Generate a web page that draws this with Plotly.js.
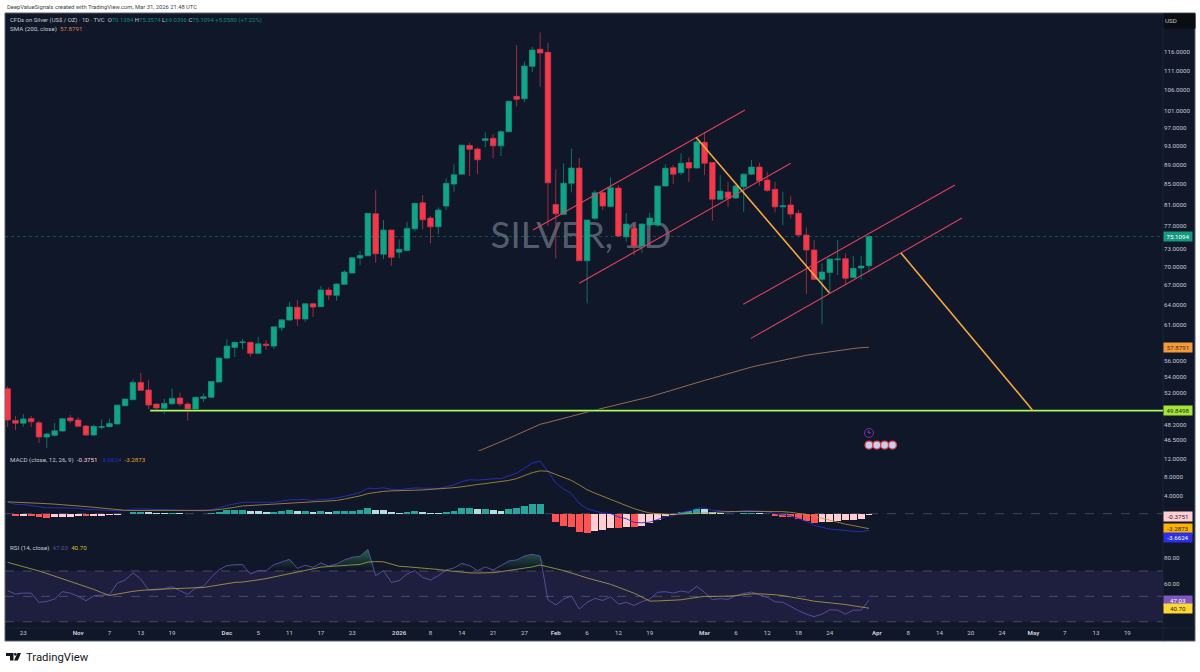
<!DOCTYPE html>
<html><head><meta charset="utf-8">
<script src="https://cdn.plot.ly/plotly-3.0.1.min.js"></script>
<style>html,body{margin:0;padding:0;background:#fff;overflow:hidden}#chart{width:1200px;height:672px}</style>
</head><body><div id="chart"></div>
<script>
// ---------- data ----------
const open_ = [52.49,48.72,48.40,48.92,48.44,46.85,47.03,47.51,49.00,48.76,48.08,47.07,47.93,48.00,48.31,50.43,51.15,53.28,52.33,50.63,
50.12,50.66,51.35,50.63,50.00,51.31,51.44,53.32,56.42,57.85,58.50,58.55,57.05,58.30,58.03,60.58,61.70,63.58,61.85,64.12,
63.67,66.22,65.40,67.12,68.93,71.40,71.78,79.26,72.05,76.27,72.40,72.70,76.50,81.33,78.45,76.85,80.70,85.00,87.00,93.10,
92.30,94.20,94.66,93.00,96.14,104.50,103.90,112.15,116.75,115.90,81.00,79.15,85.14,88.26,70.95,78.40,83.30,80.60,84.20,75.07,
76.57,73.45,77.17,77.17,84.60,88.32,87.30,89.40,88.26,93.77,89.40,82.00,83.40,82.25,84.46,87.00,88.47,85.80,83.95,80.55,
80.90,79.33,75.38,72.76,67.91,69.03,71.12,71.30,68.20,69.74,70.1384];
const high_ = [52.80,49.25,49.45,49.25,48.68,47.32,48.44,48.95,49.35,49.08,48.19,48.22,48.84,48.92,50.55,51.25,53.66,54.50,53.57,50.65,
51.27,52.49,52.00,50.90,51.46,51.92,53.42,56.45,58.96,58.60,59.00,58.63,59.33,58.86,60.75,61.76,64.38,64.68,64.15,64.27,
66.85,66.64,67.27,69.41,71.50,72.64,79.35,83.80,78.09,76.30,74.61,77.78,81.25,82.82,78.82,80.46,86.15,89.10,93.20,93.69,
92.67,96.00,95.60,96.53,103.35,117.90,113.40,117.46,121.50,118.57,88.00,89.25,92.37,90.37,78.10,83.80,83.80,86.34,84.80,79.33,
77.35,77.47,79.44,84.65,89.03,88.90,91.40,90.50,94.28,96.08,89.45,86.80,85.45,84.80,87.20,89.94,89.40,87.50,85.45,83.46,
82.62,79.95,76.75,74.49,70.53,71.28,74.49,72.20,71.75,71.75,75.3574];
const low_ = [47.96,47.62,47.99,47.96,46.20,45.65,46.88,47.43,48.40,47.93,46.96,46.96,47.70,47.93,48.25,50.35,51.11,52.20,50.00,49.68,
49.45,50.51,50.39,48.68,49.92,50.90,51.42,53.30,56.25,56.60,57.62,56.60,57.00,57.58,57.66,60.13,61.60,60.88,61.45,62.18,
63.65,64.68,64.58,67.10,68.90,70.23,71.75,70.62,71.20,70.12,71.35,72.65,76.03,76.40,73.92,75.55,79.95,83.46,86.95,86.60,
87.00,92.67,90.30,90.80,96.10,102.00,103.10,110.67,106.90,76.98,71.35,79.00,83.35,70.90,64.17,78.09,79.95,80.55,75.07,74.20,
71.90,72.30,76.57,76.85,84.55,85.00,86.80,85.45,88.20,86.80,77.96,81.85,80.55,82.05,79.63,86.80,84.65,83.46,79.50,77.17,
78.40,75.20,65.60,67.80,61.12,65.70,68.60,67.16,68.15,67.91,69.0396];
const close_ = [48.76,48.40,48.88,48.56,46.85,47.17,47.54,48.92,48.68,48.04,47.07,48.04,48.00,48.37,50.50,51.23,53.28,52.29,50.51,50.16,
50.71,51.31,50.66,50.00,51.44,51.50,53.40,56.42,58.03,58.55,58.60,57.05,58.35,58.13,60.73,61.74,63.62,61.85,64.12,63.62,
66.22,65.45,67.16,69.09,71.45,71.85,79.33,72.13,76.27,71.52,72.88,76.57,81.22,78.15,76.85,79.95,85.14,86.88,93.15,92.25,
90.00,94.57,93.00,96.14,103.30,103.77,112.24,116.55,115.73,85.25,79.26,85.14,88.26,70.95,78.09,83.26,80.70,84.26,75.20,77.35,
73.45,77.35,78.45,84.60,88.20,87.00,89.25,88.26,93.84,89.25,82.00,83.60,82.20,84.60,87.00,88.47,85.66,83.74,80.55,80.75,
79.20,75.38,72.76,67.91,69.09,71.24,71.24,68.07,69.69,70.07,75.1094];

const smaStart = 60;
const smaValues = [45.27,45.61,45.96,46.32,46.70,47.09,47.51,47.90,48.27,48.49,48.70,48.94,49.19,49.44,49.70,49.92,50.14,50.36,50.58,50.80,
51.01,51.24,51.49,51.78,52.08,52.34,52.63,52.93,53.21,53.53,53.80,54.09,54.39,54.69,54.98,55.24,55.47,55.70,55.94,56.18,
56.42,56.62,56.79,56.95,57.11,57.27,57.44,57.60,57.70,57.82,57.8791];

const macdHist = [-0.1,-0.5,-0.5,-0.6,-0.8,-0.9,-0.8,-0.75,-0.7,-0.5,-0.6,-0.55,-0.4,-0.35,-0.25,-0.05,0.3,0.35,0.3,0.2,
0.15,0.15,0.1,-0.05,-0.05,-0.1,0.15,0.35,0.72,0.76,0.78,0.7,0.6,0.35,0.4,0.55,0.75,0.65,0.7,0.35,
0.6,0.45,0.5,0.6,0.7,0.75,1.2,0.8,0.78,0.35,0.15,0.4,0.5,0.4,0.2,0.18,0.4,0.6,1.15,1.25,
0.95,0.97,0.85,0.7,1.05,1.2,1.7,2.1,2.12,-0.05,-1.9,-2.6,-2.9,-4.0,-4.2,-3.85,-3.65,-3.05,-3.1,-2.9,
-3.0,-2.6,-2.0,-1.3,-0.6,-0.3,0.35,0.6,1.0,0.95,0.35,0.2,-0.05,-0.1,0.2,0.22,0.15,-0.05,-0.5,-0.65,
-0.8,-1.15,-1.5,-2.0,-1.9,-1.88,-1.6,-1.45,-1.3,-1.1,-0.3751];
const macdLine = [2.5,2.05,2.0,1.8,1.5,1.3,1.3,1.25,1.15,1.2,0.95,0.85,0.8,0.7,0.65,0.7,1.0,1.05,1.0,0.9,
0.85,0.85,0.8,0.65,0.65,0.6,0.9,1.25,1.82,2.16,2.48,2.5,2.5,2.35,2.5,2.75,3.05,3.05,3.15,2.85,
3.15,3.15,3.4,3.8,4.2,4.65,5.6,5.5,5.68,5.35,5.25,5.5,5.65,5.6,5.5,5.53,5.9,6.3,7.05,7.45,
7.35,7.57,7.65,7.7,8.35,8.9,10.0,11.1,11.52,9.25,6.7,5.4,4.4,2.3,1.05,0.65,0.15,0.02,-0.7,-1.1,
-1.9,-2.0,-1.85,-1.3,-0.7,-0.45,0.25,0.6,1.15,1.25,0.75,0.65,0.4,0.4,0.7,0.7,0.65,0.5,0,-0.2,
-0.5,-1.05,-1.7,-2.55,-2.9,-3.4,-3.5,-3.75,-3.85,-3.95,-3.6624];
const macdSignal = [2.6,2.55,2.5,2.4,2.3,2.2,2.1,2.0,1.85,1.7,1.55,1.4,1.2,1.05,0.9,0.75,0.7,0.7,0.7,0.7,
0.7,0.7,0.7,0.7,0.7,0.7,0.75,0.9,1.1,1.4,1.7,1.8,1.9,2.0,2.1,2.2,2.3,2.4,2.45,2.5,
2.55,2.7,2.9,3.2,3.5,3.9,4.4,4.7,4.9,5.0,5.1,5.1,5.15,5.2,5.3,5.35,5.5,5.7,5.9,6.2,
6.4,6.6,6.8,7.0,7.3,7.7,8.3,9.0,9.4,9.3,8.6,8.0,7.3,6.3,5.25,4.5,3.8,3.07,2.4,1.8,
1.1,0.6,0.15,0,-0.1,-0.15,-0.1,0,0.15,0.3,0.4,0.45,0.45,0.5,0.5,0.5,0.5,0.55,0.5,0.45,
0.3,0.1,-0.2,-0.55,-1.0,-1.5,-1.9,-2.3,-2.6,-3.0,-3.2873];

const rsiLine = [54.5,51.8,52.6,52.6,45.3,46,47.9,53.7,52.6,50,46.6,50.5,51,51.3,60.3,62.9,68.4,63.7,55,55,
56,57.6,54.5,51.6,56.6,57.9,65,71,74.2,75,75,67.6,70.3,70,75,76.8,79.2,72,74.5,72.9,
76.3,73.9,75.5,78.7,80.8,81.6,87,66.3,70.3,61,62.4,67.6,70.3,65,62.9,66.3,70.8,72.4,76,74.2,
70.3,73.2,70.8,74.2,77.9,78.7,81.8,83.2,81.8,47.4,43.2,47.9,50.3,40,45.3,48.4,46.8,49.7,43.9,45.3,
42.9,45.8,47.9,53.2,53.7,52.6,54.2,53.2,57.9,53.2,47.4,48.2,47.6,50.5,52.4,53.4,51,49.2,45.8,45.3,
42.1,38.7,36,34,36,39.5,39.2,36,39.2,39.2,47.03];
const rsiMA = [76.8,75.2,73.6,72,70,68,66,64,62,60,58,55.5,53,50.7,51.8,53,54,54.7,55.3,55.6,
55.8,56,56,56,56.6,57,58,59,60.5,61,61.3,62,63,64,65.3,66.6,68,69.2,70.5,71.8,
73,73.5,73.9,74.2,74.6,75.2,77,77.4,77.2,75.5,73.7,73.3,72.9,72.3,71.8,71.2,70.4,69.6,69,68.5,
68.4,68.5,68.7,69.5,70.3,71,72.2,73.2,74.7,73.5,71.8,70.3,68.6,66.5,64.5,63,61.2,59.5,57.2,55,
52.5,49.5,46.3,46.4,46.7,47,47.3,48.3,49.3,50,50,50,50.2,50.6,51.5,52,52,51.8,51.3,50.6,
49.6,48.8,47.4,46.2,45.6,45,44.4,43.6,42.6,41.5,40.70];

const channel1UpperX=[67.09,94.16],  channel1UpperY=[76.27,101.19];
const channel1LowerX=[73.0,100.0],   channel1LowerY=[67.28,89.25];
const channel2UpperX=[93.95,120.98], channel2UpperY=[64.03,84.8];
const channel2LowerX=[94.93,121.88], channel2LowerY=[59.1,78.45];
const drop1X=[87.91,104.93], drop1Y=[94.9,65.8];
const drop2X=[114.09,130.95], drop2Y=[72.25,49.8498];
const supportStart=18.2, supportLevel=49.8498;
const lastPrice=75.1094, smaLast=57.8791;

const priceTicks=[116,111,106,101,97,93,89,85,81,77,73,70,67,64,61,56,54,52,48.2,46.5];
const macdTicks=[12,8,4];
const rsiTicks=[80,60];
const timeTickPos=[2,9,13,17,21,28,32,36,40,44,50,54,58,62,66,70,74,78,82,89,93,97,101,105,111,115,119,123,127,131,135,139,143];
const timeTickText=['23','<b>Nov</b>','7','13','19','<b>Dec</b>','5','11','17','23','<b>2026</b>','8','14','21','27','<b>Feb</b>','6','12','19','<b>Mar</b>','6','12','18','24','<b>Apr</b>','8','14','20','24','<b>May</b>','7','13','19'];

const eventFlagsX=[110,111,112,113], eventFlagPrice=45.97, eventBoltX=[110], eventBoltPrice=47.3;

// ---------- layout frame ----------
const W=1200,H=672, L=5,R=1163,T=13,B=628;
const pxX=x=>(x-L)/(R-L), pxY=y=>(B-y)/(B-T);
const xRange=[-0.34,147.55];
const BG='#0f1729', TXT='#c4c8d0';
const xs=open_.map((_,i)=>i);

const hue=macdHist.map((v,i)=>{const p=i?macdHist[i-1]:v;
  return v>=0?(v>=p?'#26a69a':'#b2dfdb'):(v>=p?'#ffcdd2':'#ff5252');});

const ln=(x,y,color,width,yaxis,dash)=>({type:'scatter',mode:'lines',x,y,yaxis:yaxis||'y',line:{color,width,dash:dash||'solid'},hoverinfo:'skip',showlegend:false,cliponaxis:true});

const traces=[
 ln(xRange,[lastPrice,lastPrice],'rgba(30,160,135,0.55)',0.8,'y','dot'),
 {type:'candlestick',x:xs,open:open_,high:high_,low:low_,close:close_,yaxis:'y',
  increasing:{line:{color:'#0f9a80',width:0.7},fillcolor:'#13a386'},
  decreasing:{line:{color:'#d8364a',width:0.7},fillcolor:'#f23a4b'},
  whiskerwidth:0,hoverinfo:'skip',showlegend:false},
 ln(xs.slice(smaStart),smaValues,'rgba(240,165,105,0.75)',0.8),
 ln([supportStart,xRange[1]],[supportLevel,supportLevel],'#2f6f10',2.6),
 ln([supportStart,xRange[1]],[supportLevel,supportLevel],'#b9ec84',1.1),
 ln(channel1UpperX,channel1UpperY,'#e0405a',1.1),
 ln(channel1LowerX,channel1LowerY,'#e0405a',1.1),
 ln(channel2UpperX,channel2UpperY,'#e0405a',1.1),
 ln(channel2LowerX,channel2LowerY,'#e0405a',1.1),
 ln(drop1X,drop1Y,'#f5a742',1.6),
 ln(drop2X,drop2Y,'#f5a742',1.6),
 {type:'scatter',mode:'markers',x:eventFlagsX,y:eventFlagsX.map(()=>eventFlagPrice),yaxis:'y',
  marker:{size:8,color:'#c5d0ee',line:{color:'#e04050',width:1.3}},hoverinfo:'skip',showlegend:false},
 {type:'scatter',mode:'markers+text',x:eventBoltX,y:[eventBoltPrice],text:['<b>ϟ</b>'],textfont:{size:6,color:'#9a4fd0'},textposition:'middle center',yaxis:'y',
  marker:{size:9,color:'rgba(0,0,0,0)',line:{color:'#7a2fa8',width:1}},hoverinfo:'skip',showlegend:false},
 {type:'bar',x:xs,y:macdHist,yaxis:'y2',marker:{color:hue,line:{width:0}},width:0.88,hoverinfo:'skip',showlegend:false},
 ln(xs,macdLine,'#2a2fc4',0.9,'y2'),
 ln(xs,macdSignal,'#b8963c',0.8,'y2'),
 ln(xs,rsiLine.map(()=>70),'rgba(0,0,0,0)',0,'y3'),
 Object.assign(ln(xs,rsiLine.map(v=>Math.max(v,70)),'rgba(0,0,0,0)',0,'y3'),{fill:'tonexty',
   fillgradient:{type:'vertical',start:72,stop:88,colorscale:[[0,'rgba(45,135,85,0)'],[1,'rgba(45,135,85,0.75)']]}}),
 ln(xs,rsiLine,'#5f4fa8',0.9,'y3'),
 ln(xs,rsiMA,'#b0a448',0.8,'y3')
];

const small={family:'Roboto, "Open Sans", sans-serif',size:6.2,color:TXT};
const tag=(text,yref,y,bg,fg,yshift)=>({xref:'paper',yref,x:1,y,xanchor:'left',yanchor:'middle',text,showarrow:false,
  bgcolor:bg,width:28,height:9,borderpad:0,align:'center',yshift:yshift||0,font:{family:small.family,size:6.2,color:fg}});
const label=(text,x,y,font)=>({xref:'paper',yref:'paper',x:pxX(x),y:pxY(y),xanchor:'left',yanchor:'middle',text,showarrow:false,align:'left',font:Object.assign({},small,font||{})});

const c=(s,col)=>'<span style="color:'+col+'">'+s+'</span>';
const G='#118a74';
const annotations=[
 label('DeepValueSignals created with TradingView.com, Mar 31, 2026 21:48 UTC',5,7,{color:'#3a3f4a',size:5.8}),
 label('CFDs on Silver (US$ / OZ) · 1D · TVC  O'+c('70.1384',G)+' H'+c('75.3574',G)+' L'+c('69.0396',G)+' C'+c('75.1094',G)+' '+c('+5.0580 (+7.22%)',G),8,19.7,{size:5.95}),
 label('SMA (200, close)  '+c('57.8791','#d8824a'),8,28.8),
 label('MACD (close, 12, 26, 9)  '+c('-0.3751','#ffcdd2')+'  '+c('-3.6624','#2a2fc4')+'  '+c('-3.2873','#e0a020'),8,459.5),
 label('RSI (14, close)  '+c('47.03','#5f4fa8')+'  '+c('40.70','#d8b830'),8,547.5),
 label('TradingView',24,657.5,{family:'Roboto, "Open Sans", sans-serif',size:11.3,color:'#131722'}),
 tag('75.1094','y',Math.log10(lastPrice),'#149a80','#ffffff'),
 tag('57.8791','y',Math.log10(smaLast),'#f29a3e','#5a2c00'),
 tag('49.8498','y',Math.log10(supportLevel),'#a6e43c','#1a3300'),
 tag('-0.3751','y2',-0.3751,'#ffcdd2','#222a44',-1),
 tag('-3.2873','y2',-3.2873,'#ffb300','#222222',0),
 tag('-3.6624','y2',-3.6624,'#2f2fe8','#ffffff',-7.3),
 tag('47.03','y3',47.03,'#7e57c2','#ffffff',0),
 tag('40.70','y3',40.70,'#fdd835','#222222',0),
 {xref:'paper',yref:'paper',x:1,y:pxY(21),xanchor:'left',yanchor:'middle',text:'USD',showarrow:false,bgcolor:'#0a0d12',width:29,height:12,align:'left',font:small}
];

const dashLine=(yref,v)=>({type:'line',xref:'paper',x0:0,x1:1,yref,y0:v,y1:v,layer:'below',line:{color:'rgba(130,135,150,0.55)',width:0.8,dash:'dash'}});
const shapes=[
 {type:'rect',xref:'paper',yref:'paper',x0:pxX(5),x1:pxX(1195),y0:pxY(13),y1:pxY(641),layer:'below',fillcolor:BG,line:{color:'#5b6270',width:1}},
 {type:'rect',xref:'paper',x0:0,x1:1,yref:'y3',y0:30,y1:70,layer:'below',fillcolor:'rgba(126,87,194,0.14)',line:{width:0}},
 dashLine('y3',70),dashLine('y3',50),dashLine('y3',30),dashLine('y2',0),
 {type:'rect',xref:'paper',yref:'paper',x0:pxX(476),x1:pxX(686),y0:pxY(207),y1:pxY(260),layer:'below',line:{width:0},fillcolor:'rgba(0,0,0,0)',
  label:{text:'SILVER, 1D',textposition:'middle center',font:{family:'Lato,"Open Sans",sans-serif',size:36.5,color:'rgba(132,140,155,0.62)'}}},
 {type:'line',xref:'paper',yref:'paper',x0:1,x1:1,y0:pxY(13),y1:pxY(641),layer:'below',line:{color:'#1c2436',width:1}},
 {type:'line',xref:'paper',yref:'paper',x0:0,x1:pxX(1195),y0:0,y1:0,layer:'below',line:{color:'#1c2436',width:1}},
 // TradingView mark
 {type:'path',xref:'paper',yref:'paper',fillcolor:'#131722',line:{width:0},layer:'above',
  path:`M ${pxX(6)} ${pxY(653)} L ${pxX(13.5)} ${pxY(653)} L ${pxX(13.5)} ${pxY(660.5)} L ${pxX(10)} ${pxY(660.5)} L ${pxX(10)} ${pxY(656)} L ${pxX(6)} ${pxY(656)} Z`},
 {type:'circle',xref:'paper',yref:'paper',x0:pxX(14),x1:pxX(16.6),y0:pxY(653),y1:pxY(655.7),fillcolor:'#131722',line:{width:0},layer:'above'},
 {type:'path',xref:'paper',yref:'paper',fillcolor:'#131722',line:{width:0},layer:'above',
  path:`M ${pxX(17.5)} ${pxY(653)} L ${pxX(21)} ${pxY(653)} L ${pxX(17.8)} ${pxY(660.5)} L ${pxX(14)} ${pxY(660.5)} Z`}
];

const tickAxis={showgrid:false,zeroline:false,showline:false,ticks:'',side:'right',anchor:'x',tickmode:'array',tickfont:small,automargin:false};
const layout={
 width:W,height:H,margin:{l:L,r:W-R,t:T,b:H-B,pad:0},
 paper_bgcolor:'#ffffff',plot_bgcolor:BG,hovermode:false,dragmode:false,showlegend:false,
 boxmode:'overlay',boxgap:0.29,boxgroupgap:0,bargap:0,
 xaxis:{range:xRange,type:'linear',rangeslider:{visible:false},showgrid:false,zeroline:false,showline:false,ticks:'',anchor:'y3',
        tickmode:'array',tickvals:timeTickPos,ticktext:timeTickText,tickfont:{family:small.family,size:6.2,color:TXT},tickangle:0,automargin:false},
 yaxis:Object.assign({},tickAxis,{type:'log',domain:[pxY(451),1],range:[Math.log10(45.33),Math.log10(127.16)],
        tickvals:priceTicks,ticktext:priceTicks.map(v=>v.toFixed(4))}),
 yaxis2:Object.assign({},tickAxis,{domain:[pxY(540),pxY(451)],range:[-5.77,13.75],
        tickvals:macdTicks,ticktext:macdTicks.map(v=>v.toFixed(4))}),
 yaxis3:Object.assign({},tickAxis,{domain:[0,pxY(540)],range:[25.1,94.4],
        tickvals:rsiTicks,ticktext:rsiTicks.map(v=>v.toFixed(2))}),
 annotations,shapes
};
Plotly.newPlot('chart',traces,layout,{displayModeBar:false,staticPlot:true,responsive:false});
</script></body></html>
